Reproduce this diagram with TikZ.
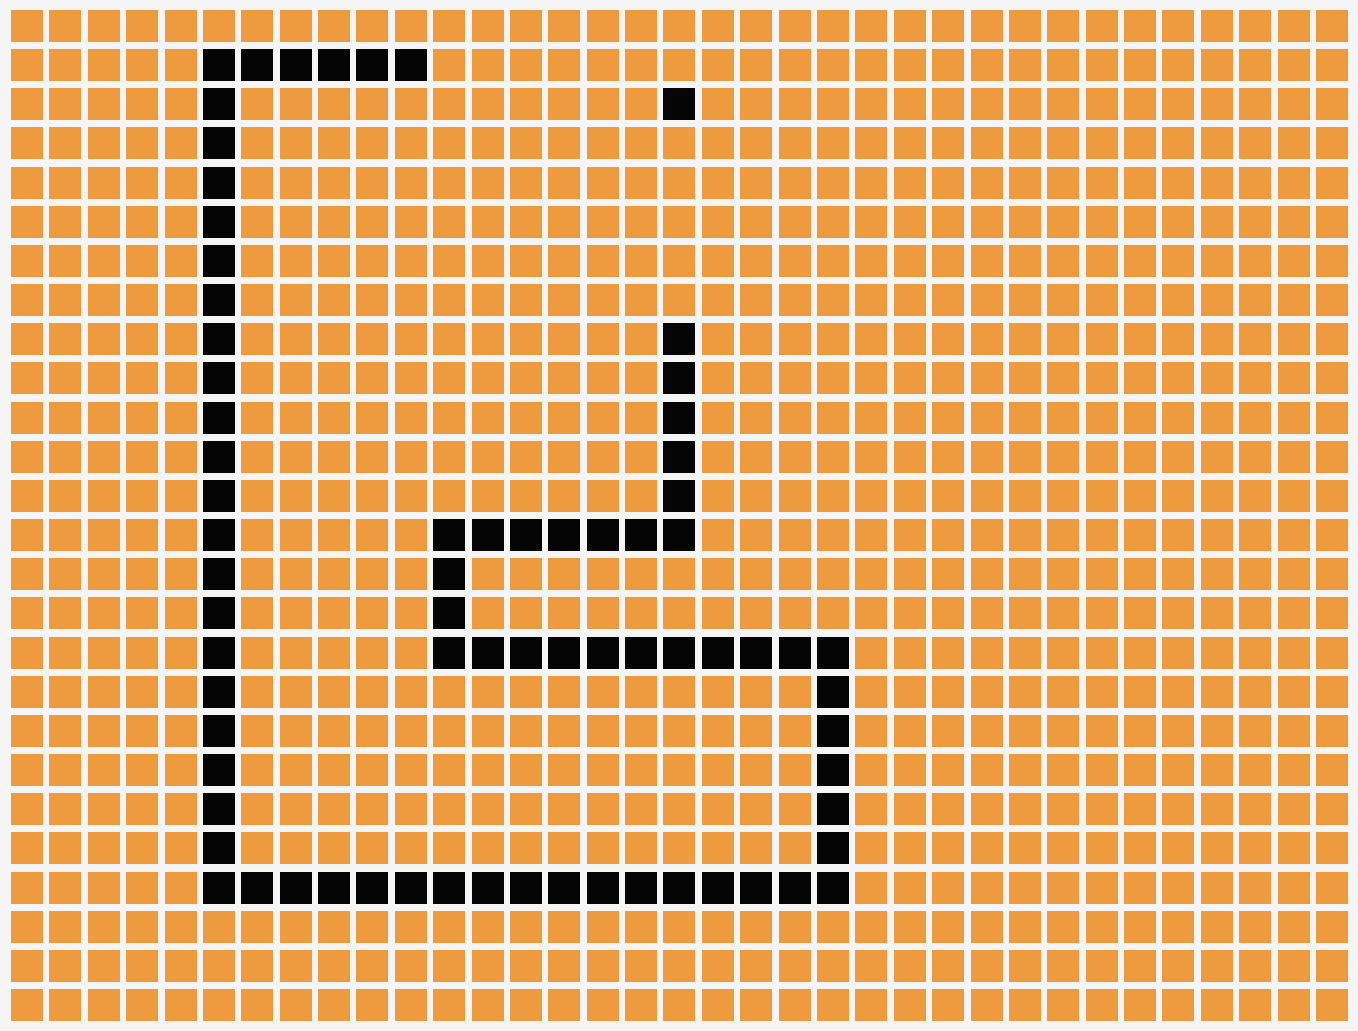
\documentclass[tikz,border=0pt]{standalone}
\usepackage{xcolor}
\definecolor{bggray}{HTML}{F5F5F5}
\definecolor{cellorange}{HTML}{EE9A3E}
\definecolor{wallblack}{HTML}{050505}
\newcommand{\gridcell}[3]{\fill[#1] ({11+38.38*#2},{10+39.16*#3}) rectangle ++(32,32);}
\begin{document}
\begin{tikzpicture}[x=0.5pt,y=-0.5pt]
\fill[bggray] (0,0) rectangle (1358,1031);
% orange grid
\foreach \c in {0,...,34}
  \foreach \r in {0,...,25} {\gridcell{cellorange}{\c}{\r}}
% black path
\foreach \r in {1,...,22} {\gridcell{wallblack}{5}{\r}}
\foreach \c in {6,...,10} {\gridcell{wallblack}{\c}{1}}
\foreach \r in {2,8,9,10,11,12} {\gridcell{wallblack}{17}{\r}}
\foreach \c in {11,...,17} {\gridcell{wallblack}{\c}{13}}
\foreach \r in {14,15} {\gridcell{wallblack}{11}{\r}}
\foreach \c in {11,...,21} {\gridcell{wallblack}{\c}{16}}
\foreach \r in {17,...,21} {\gridcell{wallblack}{21}{\r}}
\foreach \c in {6,...,21} {\gridcell{wallblack}{\c}{22}}
\end{tikzpicture}
\end{document}
